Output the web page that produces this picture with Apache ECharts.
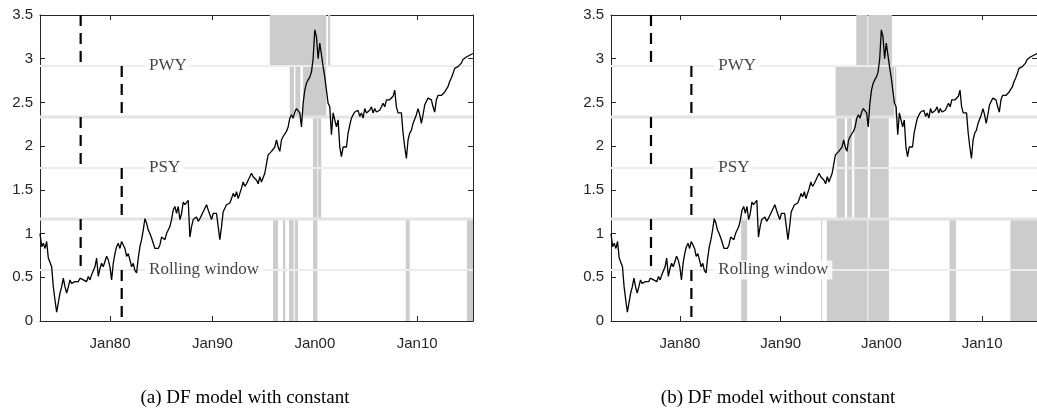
<!DOCTYPE html>
<html lang="en">
  <head>
    <meta charset="UTF-8" />
    <title>Date-stamping: PWY, PSY, rolling window</title>
    <style>
      html,
      body {
        margin: 0;
        padding: 0;
        background: #fff;
      }
      #main {
        width: 1037px;
        height: 413px;
      }
    </style>
  </head>
  <body>
    <div id="main"></div>
    <script src="https://cdn.jsdelivr.net/npm/echarts@6/dist/echarts.min.js"></script>
    <script>
      // sample span in decimal years, series read roughly every two months
      const startYear = 1973.16;
      const endYear = 2015.45;
      const logRatio = [
        1.0, 0.85, 0.89, 0.83, 0.91, 0.72, 0.7, 0.62, 0.39, 0.24,
        0.1, 0.11, 0.32, 0.39, 0.49, 0.39, 0.32, 0.39, 0.47, 0.43,
        0.45, 0.45, 0.47, 0.45, 0.49, 0.51, 0.47, 0.49, 0.45, 0.51,
        0.47, 0.53, 0.55, 0.62, 0.72, 0.51, 0.6, 0.66, 0.62, 0.68,
        0.74, 0.7, 0.62, 0.47, 0.66, 0.77, 0.85, 0.89, 0.83, 0.91,
        0.93, 0.83, 0.74, 0.77, 0.7, 0.62, 0.66, 0.58, 0.55, 0.72,
        0.85, 0.93, 1.04, 1.17, 1.12, 1.04, 1.0, 0.95, 0.89, 0.83,
        0.85, 0.83, 0.87, 0.96, 0.98, 0.93, 1.0, 0.98, 1.08, 1.16,
        1.27, 1.31, 1.23, 1.31, 1.16, 1.23, 1.36, 1.33, 1.35, 1.38,
        0.96, 1.08, 1.16, 1.17, 1.19, 1.14, 1.17, 1.21, 1.23, 1.29,
        1.33, 1.27, 1.29, 1.16, 1.23, 1.25, 1.23, 1.08, 0.93, 1.08,
        1.25, 1.29, 1.33, 1.31, 1.35, 1.4, 1.46, 1.42, 1.48, 1.4,
        1.46, 1.52, 1.59, 1.54, 1.57, 1.59, 1.65, 1.69, 1.65, 1.67,
        1.61, 1.57, 1.65, 1.59, 1.61, 1.69, 1.8, 1.9, 1.92, 1.94,
        1.92, 1.99, 2.07, 1.99, 1.94, 2.07, 2.11, 2.13, 2.17, 2.22,
        2.32, 2.36, 2.32, 2.39, 2.43, 2.45, 2.38, 2.22, 2.49, 2.64,
        2.72, 2.76, 2.79, 2.85, 3.0, 3.33, 3.25, 3.0, 3.18, 3.18,
        2.91, 2.79, 2.64, 2.49, 2.45, 2.13, 2.38, 2.36, 2.22, 2.3,
        1.99, 1.88, 1.99, 1.97, 1.99, 2.15, 2.24, 2.32, 2.36, 2.39,
        2.38, 2.41, 2.34, 2.38, 2.32, 2.43, 2.38, 2.36, 2.41, 2.45,
        2.38, 2.43, 2.39, 2.38, 2.41, 2.45, 2.49, 2.45, 2.53, 2.51,
        2.53, 2.55, 2.57, 2.64, 2.45, 2.38, 2.36, 2.38, 2.15, 1.99,
        1.86, 2.07, 2.15, 2.18, 2.26, 2.28, 2.36, 2.43, 2.36, 2.26,
        2.36, 2.47, 2.51, 2.55, 2.53, 2.53, 2.45, 2.39, 2.53, 2.58,
        2.6, 2.58, 2.58, 2.62, 2.64, 2.68, 2.74, 2.78, 2.83, 2.89,
        2.87, 2.91, 2.91, 2.95, 2.99, 3.0, 3.02, 3.02, 3.04, 3.06,
        3.06,
      ];
      const yearTicks = [1980, 1990, 2000, 2010];

      // three bands stacked on the y axis, each split at its middle
      const bandEdges = [1.1667, 2.3333];
      const bandMids = [0.5833, 1.75, 2.9167];
      const bandNames = ["Rolling window", "PSY", "PWY"];
      const labelYear = 1983.42;
      const windowStartEarly = 1977.13;
      const windowStartLate = 1981.14;

      // shaded periods [from, to] in decimal years
      // (a) with constant
      const pwyUpperA = [[1995.6, 2001.12], [2001.29, 2001.51]];
      const pwyLowerA = [[1997.55, 1997.97], [1998.1, 1998.58], [1998.85, 2001.12]];
      const psyA = [[1999.82, 2000.25], [2000.32, 2000.63]];
      const rollingA = [
        [1995.92, 1996.41], [1996.89, 1997.12], [1997.48, 1997.94],
        [1998.04, 1998.36], [1999.82, 2000.25], [2008.88, 2009.27],
        [2014.86, 2015.45],
      ];
      // (b) without constant
      const pwyUpperB = [[1997.51, 1998.62], [1998.7, 2001.05]];
      const pwyLowerB = [[1995.46, 2001.25], [2001.33, 2001.48]];
      const psyB = [
        [1995.56, 1996.37], [1996.6, 1997.09], [1997.31, 1998.65], [1998.88, 2000.73],
      ];
      const rollingB = [
        [1986.08, 1986.67], [1994.02, 1994.12], [1994.58, 1998.62],
        [1998.7, 2000.76], [2006.76, 2007.4], [2012.81, 2015.45],
      ];

      const captions = ["(a) DF model with constant", "(b) DF model without constant"];

      const ink = "#262626";
      const series = logRatio.map((v, i) => [
        startYear + (i * (endYear - startYear)) / (logRatio.length - 1),
        v,
      ]);

      // turn periods into rectangles [x0, x1, y0, y1]
      const shadeRects = (pwyU, pwyL, psy, roll) => {
        const out = [];
        pwyU.forEach((p) => out.push([p[0], p[1], bandMids[2], 3.5]));
        pwyL.forEach((p) => out.push([p[0], p[1], bandEdges[1], bandMids[2]]));
        psy.forEach((p) => out.push([p[0], p[1], bandEdges[0], bandEdges[1]]));
        roll.forEach((p) => out.push([p[0], p[1], 0, bandEdges[0]]));
        return out;
      };

      const chart = echarts.init(document.getElementById("main"));

      const xAxisFor = (g, top) => ({
        type: "value",
        gridIndex: g,
        position: top ? "top" : "bottom",
        min: startYear,
        max: endYear,
        axisLine: { show: true, onZero: false, lineStyle: { color: ink, width: 1 } },
        axisTick: {
          show: true,
          inside: true,
          length: 5,
          customValues: yearTicks,
          lineStyle: { color: ink },
        },
        axisLabel: {
          show: !top,
          customValues: yearTicks,
          formatter: (v) => "Jan" + String(v).slice(2),
          fontFamily: "Liberation Sans",
          fontSize: 15,
          color: ink,
          margin: 15,
        },
        splitLine: { show: false },
      });
      const yAxisFor = (g, right) => ({
        type: "value",
        gridIndex: g,
        position: right ? "right" : "left",
        min: 0,
        max: 3.5,
        interval: 0.5,
        axisLine: { show: true, onZero: false, lineStyle: { color: ink, width: 1 } },
        axisTick: { show: true, inside: true, length: 5, lineStyle: { color: ink } },
        axisLabel: {
          show: !right,
          fontFamily: "Liberation Sans",
          fontSize: 15,
          color: ink,
          margin: 7,
        },
        splitLine: { show: false },
      });

      const panelSeries = (g, rects) => [
        {
          type: "custom",
          xAxisIndex: g * 2,
          yAxisIndex: g * 2,
          z: 1,
          silent: true,
          encode: { x: [0, 1], y: [2, 3] },
          data: rects,
          renderItem: (params, api) => {
            const a = api.coord([api.value(0), api.value(3)]);
            const b = api.coord([api.value(1), api.value(2)]);
            const shape = echarts.graphic.clipRectByRect(
              { x: a[0], y: a[1], width: b[0] - a[0], height: b[1] - a[1] },
              params.coordSys
            );
            return shape && { type: "rect", shape: shape, style: { fill: "#cccccc" } };
          },
        },
        {
          type: "custom",
          xAxisIndex: g * 2,
          yAxisIndex: g * 2,
          z: 2,
          silent: true,
          encode: { x: [0, 1], y: 2 },
          data: bandEdges.map((y) => [startYear, endYear, y, 3])
            .concat(bandMids.map((y) => [startYear, endYear, y, 2])),
          renderItem: (params, api) => {
            const a = api.coord([api.value(0), api.value(2)]);
            const b = api.coord([api.value(1), api.value(2)]);
            const thick = api.value(3) === 3;
            return {
              type: "line",
              shape: { x1: a[0], y1: a[1], x2: b[0], y2: b[1] },
              style: { stroke: thick ? "#e3e3e3" : "#ececec", lineWidth: thick ? 3 : 2 },
            };
          },
        },
        {
          type: "custom",
          xAxisIndex: g * 2,
          yAxisIndex: g * 2,
          z: 3,
          silent: true,
          encode: { x: 0, y: [1, 2] },
          data: [
            [windowStartEarly, 3.5, bandMids[2]],
            [windowStartEarly, bandEdges[1], bandMids[1]],
            [windowStartEarly, bandEdges[0], bandMids[0]],
            [windowStartLate, bandMids[2], bandEdges[1]],
            [windowStartLate, bandMids[1], bandEdges[0]],
            [windowStartLate, bandMids[0], 0],
          ],
          renderItem: (params, api) => {
            const a = api.coord([api.value(0), api.value(1)]);
            const b = api.coord([api.value(0), api.value(2)]);
            return {
              type: "line",
              shape: { x1: a[0], y1: a[1], x2: b[0], y2: b[1] },
              style: { stroke: "#000", lineWidth: 2.2, lineDash: [11, 7] },
            };
          },
        },
        {
          type: "scatter",
          xAxisIndex: g * 2,
          yAxisIndex: g * 2,
          z: 4,
          silent: true,
          symbolSize: 0,
          data: bandMids.map((y, i) => [labelYear, y, bandNames[i]]),
          label: {
            show: true,
            position: "right",
            distance: 0,
            formatter: (p) => p.value[2],
            backgroundColor: "#fff",
            padding: [1, 4, 1, 4],
            fontFamily: "Liberation Serif",
            fontSize: 17,
            color: "#111",
          },
        },
        {
          type: "line",
          xAxisIndex: g * 2,
          yAxisIndex: g * 2,
          z: 5,
          silent: true,
          showSymbol: false,
          data: series,
          lineStyle: { color: "#000", width: 1.3 },
        },
      ];

      const option = {
        animation: false,
        title: captions.map((t, i) => ({
          text: t,
          left: i === 0 ? 240 : 773,
          top: 384,
          textAlign: "center",
          textStyle: { fontFamily: "Liberation Serif", fontSize: 19, fontWeight: "normal", color: "#000" },
        })),
        grid: [
          { left: 40, top: 15, width: 433, height: 306 },
          { left: 611, top: 15, width: 433, height: 306 },
        ],
        xAxis: [xAxisFor(0, false), xAxisFor(0, true), xAxisFor(1, false), xAxisFor(1, true)],
        yAxis: [yAxisFor(0, false), yAxisFor(0, true), yAxisFor(1, false), yAxisFor(1, true)],
        series: panelSeries(0, shadeRects(pwyUpperA, pwyLowerA, psyA, rollingA)).concat(
          panelSeries(1, shadeRects(pwyUpperB, pwyLowerB, psyB, rollingB))
        ),
      };
      chart.setOption(option);
      window.onresize = function () {
        chart.resize();
      };
    </script>
  </body>
</html>
